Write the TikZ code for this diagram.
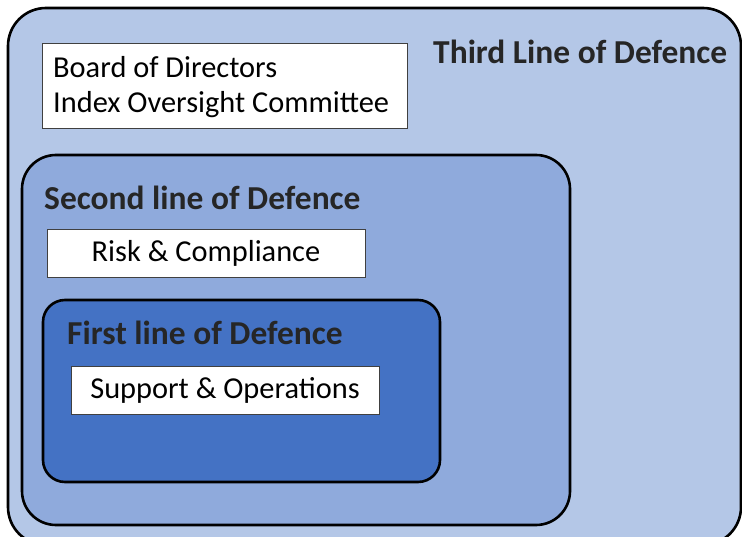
\documentclass[tikz,border=0pt]{standalone}
\usepackage{fontspec}
\setmainfont{Carlito}
\usetikzlibrary{positioning}
\definecolor{thirdfill}{HTML}{B4C7E7}
\definecolor{secondfill}{HTML}{8FAADC}
\definecolor{firstfill}{HTML}{4472C4}
\definecolor{titlegray}{HTML}{262626}
\definecolor{boxgray}{HTML}{404040}

\begin{document}
\begin{tikzpicture}[
		x = 1bp, y = -1bp,
		line/.style = {rectangle, draw = black, line width = 2.6bp, inner sep = 0pt},
		member/.style = {rectangle, draw = boxgray, line width = 0.8bp, fill = white, inner sep = 0pt, font = \fontsize{30.5}{36}\selectfont},
		linetitle/.style = {anchor = west, inner sep = 0pt, text = titlegray, font = \fontsize{33.6}{36}\selectfont\bfseries},
	]
	\useasboundingbox (0,0) rectangle (742,537);
	\clip (0,0) rectangle (742,537);

	% nested lines of defence
	\node[line, fill = thirdfill, rounded corners = 38bp, minimum width = 733bp, minimum height = 537bp](third) at (374.5,276.5){};
	\node[line, fill = secondfill, rounded corners = 34bp, minimum width = 548bp, minimum height = 370bp](second) at (296,340){};
	\node[line, fill = firstfill, rounded corners = 22bp, minimum width = 397bp, minimum height = 182bp](first) at (241.5,391){};

	\node[linetitle](thirdT) at (433,52){Third Line of Defence};
	\node[linetitle](secondT) at (44,198){Second line of Defence};
	\node[linetitle](firstT) at (67,333){First line of Defence};

	% bodies in each line
	\node[member, minimum width = 365bp, minimum height = 85bp](board) at (224.5,85.5){};
	\node[anchor = west, inner sep = 0pt, align = left, font = \fontsize{30.5}{36}\selectfont](boardT) at (53,87){Board of Directors\\Index Oversight Committee};
	\node[member, minimum width = 318bp, minimum height = 48bp](risk) at (206,253){Risk \& Compliance};
	\node[member, minimum width = 308bp, minimum height = 48bp](support) at (225,390){Support \& Operations};

\end{tikzpicture}
\end{document}
